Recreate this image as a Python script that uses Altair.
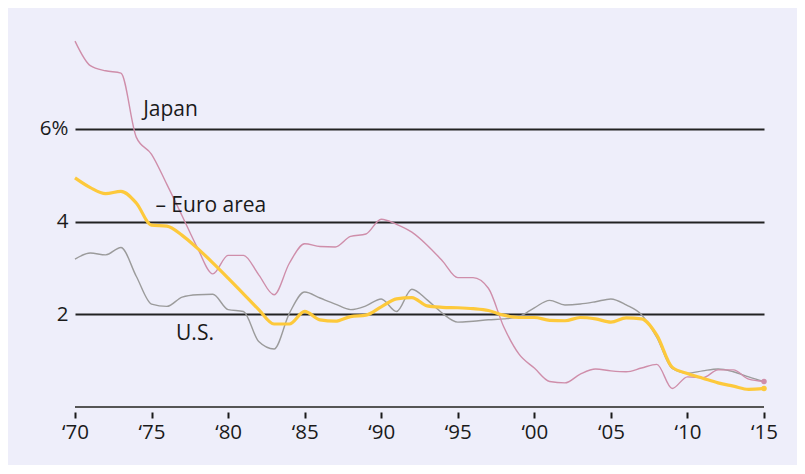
import altair as alt
import pandas as pd

years = list(range(1970, 2016))
japan = [7.89, 7.36, 7.25, 7.20, 5.82, 5.45, 4.80, 4.12, 3.43, 2.87,
         3.27, 3.27, 2.85, 2.42, 3.10, 3.52, 3.46, 3.45, 3.68, 3.73,
         4.05, 3.94, 3.77, 3.49, 3.15, 2.79, 2.79, 2.56, 1.73, 1.14,
         0.84, 0.55, 0.52, 0.71, 0.82, 0.78, 0.76, 0.84, 0.92, 0.40,
         0.65, 0.63, 0.80, 0.80, 0.60, 0.55]
us = [3.19, 3.32, 3.28, 3.44, 2.82, 2.22, 2.17, 2.37, 2.42, 2.43,
      2.10, 2.06, 1.41, 1.25, 2.02, 2.48, 2.35, 2.22, 2.10, 2.18,
      2.33, 2.06, 2.54, 2.31, 2.02, 1.83, 1.85, 1.88, 1.90, 1.95,
      2.14, 2.30, 2.20, 2.22, 2.27, 2.33, 2.20, 1.99, 1.50, 0.83,
      0.73, 0.78, 0.82, 0.76, 0.65, 0.55]
euro = [4.94, 4.73, 4.60, 4.65, 4.40, 3.92, 3.90, 3.70, 3.42, 3.11,
        2.78, 2.44, 2.10, 1.79, 1.79, 2.06, 1.88, 1.85, 1.95, 1.98,
        2.16, 2.33, 2.36, 2.18, 2.15, 2.14, 2.12, 2.08, 1.98, 1.93,
        1.93, 1.87, 1.86, 1.93, 1.90, 1.83, 1.92, 1.90, 1.55, 0.86,
        0.72, 0.62, 0.52, 0.45, 0.38, 0.40]

label_text = ["Japan", "\u2013 Euro area", "U.S."]
label_year = [1974.45, 1975.25, 1976.6]
label_value = [6.28, 4.21, 1.45]

tick_years = [1970, 1975, 1980, 1985, 1990, 1995, 2000, 2005, 2010, 2015]
y_ticks = [2, 4, 6]

FONT = "Open Sans"
TXT = "#1a1a1a"

df_j = pd.DataFrame({"year": years, "value": japan})
df_u = pd.DataFrame({"year": years, "value": us})
df_e = pd.DataFrame({"year": years, "value": euro})
df_end = pd.DataFrame({"year": [2015, 2015], "value": [japan[-1], euro[-1]],
                       "series": ["Japan", "Euro"]})
df_lab = pd.DataFrame({"year": label_year, "value": label_value, "text": label_text})

xscale = alt.Scale(domain=[1970, 2015], nice=False, zero=False)
yscale = alt.Scale(domain=[0, 8], nice=False, zero=True)

x_axis = alt.Axis(values=tick_years, title=None, domain=False, grid=False,
                  offset=5, tickSize=6, tickWidth=2, tickColor=TXT,
                  labelFont=FONT, labelFontSize=20.5, labelColor=TXT,
                  labelPadding=4, labelAlign="center", labelFlush=False,
                  labelBound=False,
                  labelExpr="'\u2018' + substring(toString(datum.value), 2, 4)")
y_axis = alt.Axis(values=y_ticks, title=None, domain=False, ticks=False,
                  grid=True, gridColor="#222222", gridWidth=1.8, gridOpacity=1,
                  labelFont=FONT, labelFontSize=20.5, labelColor=TXT,
                  labelPadding=7, labelFlush=False,
                  labelExpr="datum.value == 6 ? '6%' : datum.label")

base_axes = alt.Chart(df_j).mark_line(opacity=0).encode(
    x=alt.X("year:Q", scale=xscale, axis=x_axis),
    y=alt.Y("value:Q", scale=yscale, axis=y_axis),
)

baseline = alt.Chart(pd.DataFrame({"value": [0]})).mark_rule(
    color="#555555", strokeWidth=2
).encode(y=alt.Y("value:Q", scale=yscale))

us_line = alt.Chart(df_u).mark_line(color="#9b9b9b", strokeWidth=1.4,
                                    interpolate="monotone").encode(
    x=alt.X("year:Q", scale=xscale), y=alt.Y("value:Q", scale=yscale))
jp_line = alt.Chart(df_j).mark_line(color="#cf8eaa", strokeWidth=1.4,
                                    interpolate="monotone").encode(
    x=alt.X("year:Q", scale=xscale), y=alt.Y("value:Q", scale=yscale))
eu_line = alt.Chart(df_e).mark_line(color="#fdc93b", strokeWidth=3.2,
                                    interpolate="monotone").encode(
    x=alt.X("year:Q", scale=xscale), y=alt.Y("value:Q", scale=yscale))

ends = alt.Chart(df_end).mark_circle(size=30, opacity=1).encode(
    x=alt.X("year:Q", scale=xscale), y=alt.Y("value:Q", scale=yscale),
    color=alt.Color("series:N", scale=alt.Scale(domain=["Japan", "Euro"],
                                                range=["#cf8eaa", "#fdc93b"]),
                    legend=None))

labels = alt.Chart(df_lab).mark_text(
    font=FONT, fontSize=21, color=TXT, align="left", baseline="alphabetic"
).encode(x=alt.X("year:Q", scale=xscale), y=alt.Y("value:Q", scale=yscale),
         text="text:N")

chart = alt.layer(base_axes, baseline, us_line, jp_line, eu_line, ends, labels).properties(
    width=689, height=371,
    autosize=alt.AutoSizeParams(type="none"),
    padding={"left": 67, "top": 28, "right": 33, "bottom": 58},
    background="#eeeefa",
).configure_view(stroke=None)

chart.save("out.html", embed_options={"renderer": "svg", "actions": False})
